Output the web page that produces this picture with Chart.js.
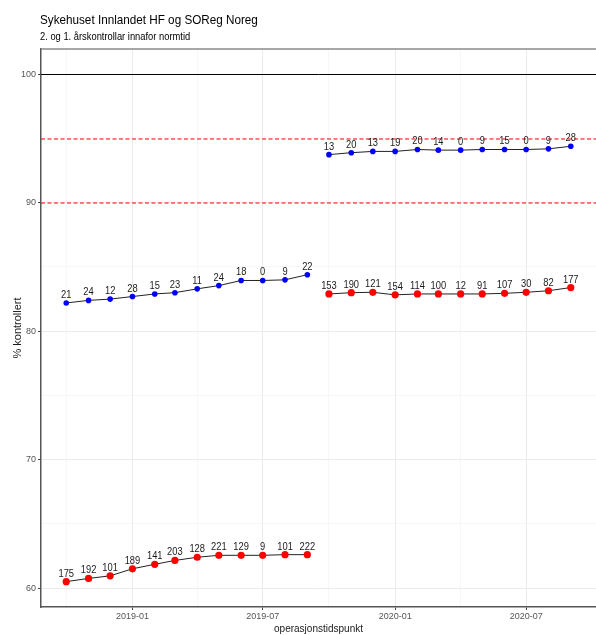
<!DOCTYPE html>
<html><head><meta charset="utf-8">
<script src="https://cdn.jsdelivr.net/npm/chart.js@4/dist/chart.umd.min.js"></script>
<style>html,body{margin:0;padding:0;background:#fff}#wrap{width:596px;height:635px}</style>
</head><body><div id="wrap"><canvas id="c" width="596" height="635"></canvas></div>
<script>
// ---- data ----
const chartTitle = 'Sykehuset Innlandet HF og SOReg Noreg';
const chartSubtitle = '2. og 1. årskontrollar innafor normtid';
const xTitle = 'operasjonstidspunkt';
const yTitle = '% kontrollert';

const months1 = ['2018-10','2018-11','2018-12','2019-01','2019-02','2019-03','2019-04','2019-05','2019-06','2019-07','2019-08','2019-09'];
const months2 = ['2019-10','2019-11','2019-12','2020-01','2020-02','2020-03','2020-04','2020-05','2020-06','2020-07','2020-08','2020-09'];

// Sykehuset Innlandet (blue), SOReg Noreg (red)
const blue1  = [82.2, 82.4, 82.5, 82.7, 82.9, 83.0, 83.3, 83.55, 83.95, 83.95, 84.0, 84.4];
const blue1N = [21, 24, 12, 28, 15, 23, 11, 24, 18, 0, 9, 22];
const red1   = [60.5, 60.75, 60.95, 61.5, 61.85, 62.15, 62.4, 62.55, 62.55, 62.55, 62.6, 62.6];
const red1N  = [175, 192, 101, 189, 141, 203, 128, 221, 129, 9, 101, 222];

const blue2  = [93.75, 93.9, 94.0, 94.0, 94.15, 94.1, 94.1, 94.15, 94.15, 94.15, 94.2, 94.4];
const blue2N = [13, 20, 13, 19, 20, 14, 0, 9, 15, 0, 9, 28];
const red2   = [82.9, 83.0, 83.03, 82.83, 82.9, 82.9, 82.9, 82.9, 82.95, 83.03, 83.15, 83.4];
const red2N  = [153, 190, 121, 154, 114, 100, 12, 91, 107, 30, 82, 177];

const refSolid = [100];
const refDashed = [95, 90];

const xTickLabels = ['2019-01','2019-07','2020-01','2020-07'];
const xMinorTicks = ['2018-10','2019-04','2019-10','2020-04'];
const yTickLabels = [60, 70, 80, 90, 100];
const yMinorTicks = [65, 75, 85, 95];

// ---- helpers ----
const toMs = s => Date.UTC(+s.slice(0,4), +s.slice(5,7) - 1, 1);
const pts = (months, vals) => months.map((m, i) => ({x: toMs(m), y: vals[i]}));

const allX = months1.concat(months2).map(toMs);
const xLo = Math.min(...allX), xHi = Math.max(...allX);
const xPad = (xHi - xLo) * 0.05;
const allY = blue1.concat(red1, blue2, red2, refSolid, refDashed);
const yLo = Math.min(...allY), yHi = Math.max(...allY);
const yPad = (yHi - yLo) * 0.05;

const majorX = xTickLabels.map(toMs);
const minorX = xMinorTicks.map(toMs);

const FONT = '"Liberation Sans", Arial, sans-serif';
const BLUE = '#0000ff', RED = '#ff0000';

function ds(months, vals, counts, color, r) {
  return {
    data: pts(months, vals), counts: counts,
    borderColor: '#222', borderWidth: 1,
    pointBackgroundColor: color, pointBorderColor: color,
    pointRadius: r, pointHoverRadius: r, pointBorderWidth: 0,
    tension: 0, fill: false
  };
}

function squeezedText(ctx, txt, x, y, sx) {
  ctx.save();
  ctx.translate(x, y);
  ctx.scale(sx, 1);
  ctx.fillText(txt, 0, 0);
  ctx.restore();
}

const decor = {
  id: 'decor',
  beforeDatasetsDraw(chart) {
    const ctx = chart.ctx, a = chart.chartArea, y = chart.scales.y;
    refSolid.forEach(v => {
      const py = Math.round(y.getPixelForValue(v)) + 0.5;
      ctx.save();
      ctx.setLineDash([]);
      ctx.lineWidth = 1;
      ctx.strokeStyle = '#000000';
      ctx.beginPath(); ctx.moveTo(a.left, py); ctx.lineTo(a.right, py); ctx.stroke();
      ctx.restore();
    });
    refDashed.forEach(v => {
      const py = Math.round(y.getPixelForValue(v));
      ctx.save();
      ctx.setLineDash([4, 2.5]);
      ctx.lineWidth = 1.2;
      ctx.strokeStyle = '#ff0000';
      ctx.beginPath(); ctx.moveTo(a.left, py); ctx.lineTo(a.right, py); ctx.stroke();
      ctx.restore();
    });
  },
  afterDatasetsDraw(chart) {
    const ctx = chart.ctx;
    ctx.save();
    ctx.font = '11px ' + FONT;
    ctx.fillStyle = '#1a1a1a';
    ctx.textAlign = 'center';
    ctx.textBaseline = 'alphabetic';
    chart.data.datasets.forEach((d, i) => {
      const meta = chart.getDatasetMeta(i);
      meta.data.forEach((el, j) => {
        squeezedText(ctx, String(d.counts[j]), el.x, el.y - 5, 0.85);
      });
    });
    ctx.restore();
  },
  afterDraw(chart) {
    const ctx = chart.ctx, a = chart.chartArea;
    ctx.save();
    ctx.strokeStyle = '#8a8a8a';
    ctx.lineWidth = 1.5;
    ctx.beginPath();
    ctx.moveTo(a.left, a.top); ctx.lineTo(chart.width, a.top);
    ctx.stroke();
    ctx.fillStyle = '#000';
    ctx.textAlign = 'left';
    ctx.textBaseline = 'alphabetic';
    ctx.font = '13px ' + FONT;
    squeezedText(ctx, chartTitle, 40, 24, 0.9);
    ctx.font = '11px ' + FONT;
    squeezedText(ctx, chartSubtitle, 40, 40, 0.85);
    ctx.restore();
  }
};

new Chart(document.getElementById('c'), {
  type: 'line',
  data: {
    datasets: [
      ds(months1, red1, red1N, RED, 3.6),
      ds(months1, blue1, blue1N, BLUE, 2.8),
      ds(months2, red2, red2N, RED, 3.6),
      ds(months2, blue2, blue2N, BLUE, 2.8)
    ]
  },
  options: {
    responsive: false,
    animation: false,
    devicePixelRatio: 1,
    layout: {autoPadding: false, padding: {top: 49, right: -5, left: 0, bottom: 0}},
    plugins: {legend: {display: false}, title: {display: false}, tooltip: {enabled: false}},
    scales: {
      x: {
        type: 'linear',
        min: xLo - xPad, max: xHi + xPad,
        afterBuildTicks(scale) {
          scale.ticks = minorX.concat(majorX).sort((a, b) => a - b).map(v => ({value: v}));
        },
        afterFit(scale) { scale.height = 28; scale.paddingLeft = 0; scale.paddingRight = 0; },
        ticks: {
          autoSkip: false, maxRotation: 0, padding: 1,
          color: '#555', font: {family: FONT, size: 9},
          callback(v) { const k = majorX.indexOf(v); return k >= 0 ? xTickLabels[k] : ''; }
        },
        grid: {
          color: c => majorX.includes(c.tick && c.tick.value) ? '#ebebeb' : '#f3f3f3',
          lineWidth: c => majorX.includes(c.tick && c.tick.value) ? 1 : 0.7,
          tickColor: c => majorX.includes(c.tick && c.tick.value) ? '#444' : 'rgba(0,0,0,0)',
          tickLength: 3
        },
        border: {display: true, color: '#555', width: 1.5},
        title: {display: true, text: xTitle, color: '#1a1a1a', font: {family: FONT, size: 10}, padding: {top: 0, bottom: 0}}
      },
      y: {
        type: 'linear',
        min: yLo - yPad, max: yHi + yPad,
        afterBuildTicks(scale) {
          scale.ticks = yMinorTicks.concat(yTickLabels).sort((a, b) => a - b).map(v => ({value: v}));
        },
        afterFit(scale) { scale.width = 41; scale.paddingTop = 0; scale.paddingBottom = 0; },
        ticks: {
          autoSkip: false, padding: 2,
          color: '#555', font: {family: FONT, size: 9},
          callback(v) { return yTickLabels.includes(v) ? String(v) : ''; }
        },
        grid: {
          color: c => yTickLabels.includes(c.tick && c.tick.value) ? '#ebebeb' : '#f3f3f3',
          lineWidth: c => yTickLabels.includes(c.tick && c.tick.value) ? 1 : 0.7,
          tickColor: c => yTickLabels.includes(c.tick && c.tick.value) ? '#444' : 'rgba(0,0,0,0)',
          tickLength: 3
        },
        border: {display: true, color: '#555', width: 1.5},
        title: {display: true, text: yTitle, color: '#1a1a1a', font: {family: FONT, size: 11}, padding: {top: 11, bottom: 0}}
      }
    }
  },
  plugins: [decor]
});
</script>
</body></html>
